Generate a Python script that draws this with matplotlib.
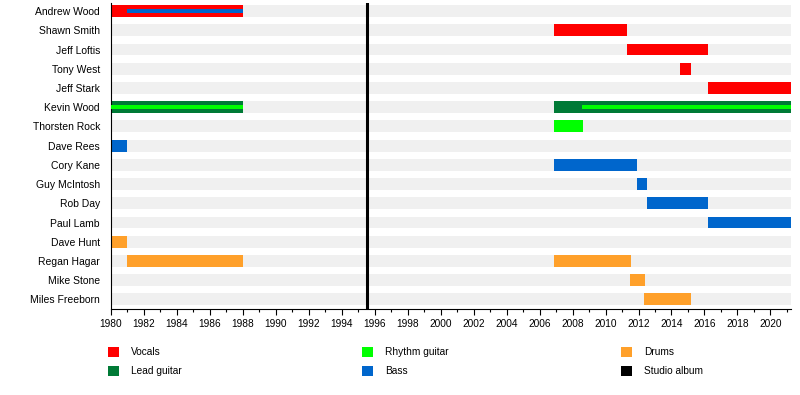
import matplotlib.pyplot as plt
from matplotlib.patches import Patch
from matplotlib.ticker import MultipleLocator

plt.rcParams['font.family'] = ['Liberation Sans', 'DejaVu Sans']

members = ["Andrew Wood", "Shawn Smith", "Jeff Loftis", "Tony West", "Jeff Stark",
           "Kevin Wood", "Thorsten Rock", "Dave Rees", "Cory Kane", "Guy McIntosh",
           "Rob Day", "Paul Lamb", "Dave Hunt", "Regan Hagar", "Mike Stone", "Miles Freeborn"]

start_year = 1980
end_year = 2021.25
album_years = [1995.5]

# main role spans: (member, role, start, end)
main_spans = [
    ("Andrew Wood", "Vocals", 1980, 1988),
    ("Shawn Smith", "Vocals", 2006.9, 2011.3),
    ("Jeff Loftis", "Vocals", 2011.3, 2016.2),
    ("Tony West", "Vocals", 2014.5, 2015.2),
    ("Jeff Stark", "Vocals", 2016.2, 2021.25),
    ("Kevin Wood", "Lead guitar", 1980, 1988),
    ("Kevin Wood", "Lead guitar", 2006.9, 2021.25),
    ("Thorsten Rock", "Rhythm guitar", 2006.9, 2008.65),
    ("Dave Rees", "Bass", 1980, 1981),
    ("Cory Kane", "Bass", 2006.9, 2011.9),
    ("Guy McIntosh", "Bass", 2011.9, 2012.5),
    ("Rob Day", "Bass", 2012.5, 2016.2),
    ("Paul Lamb", "Bass", 2016.2, 2021.25),
    ("Dave Hunt", "Drums", 1980, 1981),
    ("Regan Hagar", "Drums", 1981, 1988),
    ("Regan Hagar", "Drums", 2006.9, 2011.55),
    ("Mike Stone", "Drums", 2011.5, 2012.4),
    ("Miles Freeborn", "Drums", 2012.35, 2015.2),
]

# secondary role spans drawn as thin inner bars
second_spans = [
    ("Andrew Wood", "Bass", 1981, 1988),
    ("Kevin Wood", "Rhythm guitar", 1980, 1988),
    ("Kevin Wood", "Rhythm guitar", 2008.6, 2021.25),
]

roles = ["Vocals", "Lead guitar", "Rhythm guitar", "Bass", "Drums", "Studio album"]
colors = {"Vocals": "#ff0000", "Lead guitar": "#007a36", "Rhythm guitar": "#00ff00",
          "Bass": "#0066cc", "Drums": "#ffa02a", "Studio album": "#000000"}

fig = plt.figure(figsize=(8, 3.95), dpi=100)
ax = fig.add_axes([0.13875, 0.2177, 0.85, 0.7747])

rows = list(range(len(members)))
ax.barh(rows, [end_year - start_year] * len(members), left=start_year, height=0.62,
        color="#f0f0f0", zorder=1)

for who, role, s, e in main_spans:
    ax.barh(members.index(who), e - s, left=s, height=0.62, color=colors[role], zorder=2)
for who, role, s, e in second_spans:
    ax.barh(members.index(who), e - s, left=s, height=0.2, color=colors[role], zorder=3)

for yr in album_years:
    ax.axvline(yr, color="black", lw=2.2, zorder=4)

ax.set_xlim(start_year, end_year)
ax.set_ylim(15.5, -0.42)
ax.set_yticks(rows)
ax.set_yticklabels(members, fontsize=7.5)
ax.tick_params(axis='y', length=0, pad=8)
ax.xaxis.set_major_locator(MultipleLocator(2))
ax.xaxis.set_minor_locator(MultipleLocator(1))
ax.tick_params(axis='x', which='major', length=4, labelsize=7.3, width=0.8, pad=3)
ax.tick_params(axis='x', which='minor', length=2.5, width=0.8)
for sp in ["top", "right"]:
    ax.spines[sp].set_visible(False)
ax.spines["left"].set_linewidth(0.8)
ax.spines["bottom"].set_linewidth(0.8)

# legend in three columns
col_x = [0.135, 0.452, 0.776]
for i, x in enumerate(col_x):
    pair = roles[2 * i:2 * i + 2]
    handles = [Patch(facecolor=colors[r], edgecolor="none", label=r) for r in pair]
    fig.legend(handles=handles, loc="upper left", bbox_to_anchor=(x, 0.122),
               frameon=False, fontsize=7.3, handlelength=1.1, handleheight=1.2,
               handletextpad=1.2, labelspacing=0.82, borderaxespad=0, borderpad=0)

fig.savefig("out.png", dpi=100)
